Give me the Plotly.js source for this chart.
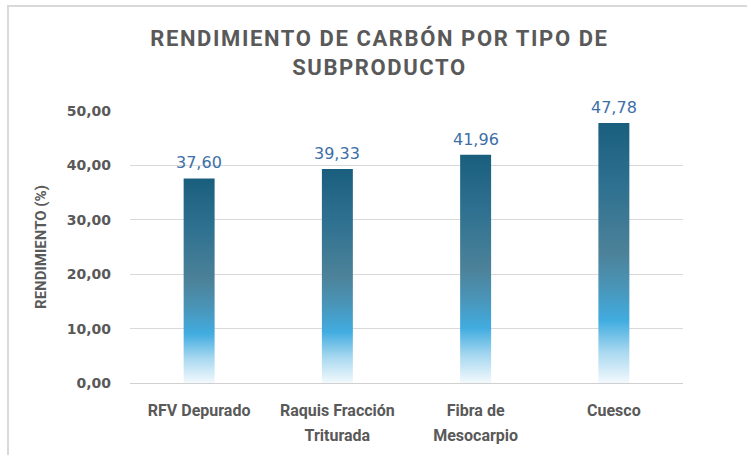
<!DOCTYPE html>
<html>
<head>
<meta charset="utf-8">
<script src="https://cdn.plot.ly/plotly-3.0.1.min.js"></script>
<style>
  html, body { margin: 0; padding: 0; background: #fff; }
  #wrap { position: relative; width: 747px; height: 455px; overflow: hidden; }
  #chart { width: 747px; height: 455px; }
  #frame { position: absolute; left: 7px; top: 5px; width: 745px; height: 460px;
           border-top: 2px solid #d9d9d9; border-left: 2px solid #d9d9d9;
           box-sizing: border-box; pointer-events: none; }
</style>
</head>
<body>
<div id="wrap">
  <div id="chart"></div>
  <div id="frame"></div>
</div>
<script>
const categories = ["RFV Depurado", "Raquis Fracción<br>Triturada", "Fibra de<br>Mesocarpio", "Cuesco"];
const yields = [37.60, 39.33, 41.96, 47.78];
const yTicks = [0, 10, 20, 30, 40, 50];

const fmt = function (v) { return v.toFixed(2).replace('.', ','); };

const trace = {
  type: 'bar',
  x: categories,
  y: yields,
  marker: { color: '#2f7fa6', line: { width: 0 } },
  hoverinfo: 'none'
};

const annotations = categories.map(function (c, i) {
  return {
    x: c, y: yields[i], xref: 'x', yref: 'y',
    text: fmt(yields[i]), showarrow: false,
    yanchor: 'bottom', yshift: 4,
    font: { family: 'DejaVu Sans, sans-serif', size: 16, color: '#3d6fa6' }
  };
});

const layout = {
  width: 747, height: 455,
  paper_bgcolor: '#ffffff', plot_bgcolor: '#ffffff',
  separators: ',.',
  margin: { l: 130, r: 64, t: 111, b: 72 },
  bargap: 0.776,
  showlegend: false,
  annotations: annotations,
  title: {
    text: 'RENDIMIENTO DE CARBÓN POR TIPO DE<br>SUBPRODUCTO',
    font: { family: 'Roboto, Liberation Sans, sans-serif', size: 22, color: '#595959', weight: 'bold' },
    x: 0.508, xanchor: 'center', y: 0.899, yanchor: 'middle'
  },
  xaxis: {
    type: 'category',
    showgrid: false, zeroline: false, showline: false, ticks: '',
    ticklabelstandoff: 16,
    tickfont: { family: 'Roboto, Liberation Sans, sans-serif', size: 16, color: '#595959', weight: 'bold' }
  },
  yaxis: {
    range: [0, 50],
    tickvals: yTicks,
    tickformat: '.2f',
    showgrid: true, gridcolor: '#d9d9d9', gridwidth: 1,
    zeroline: true, zerolinecolor: '#d0d0d0', zerolinewidth: 1,
    showline: false, ticks: '',
    ticklabelstandoff: 18,
    tickfont: { family: 'DejaVu Sans, sans-serif', size: 14, color: '#595959', weight: 'bold' },
    title: {
      text: 'RENDIMIENTO (%)',
      font: { family: 'Roboto, Liberation Sans, sans-serif', size: 15, color: '#595959', weight: 'bold' },
      standoff: 16
    }
  }
};

Plotly.newPlot('chart', [trace], layout, { displayModeBar: false, staticPlot: true }).then(function (gd) {
  const svgNS = 'http://www.w3.org/2000/svg';
  const svg = gd.querySelector('svg.main-svg');
  let defs = svg.querySelector('defs');
  if (!defs) { defs = document.createElementNS(svgNS, 'defs'); svg.insertBefore(defs, svg.firstChild); }
  const grad = document.createElementNS(svgNS, 'linearGradient');
  grad.setAttribute('id', 'barGrad');
  grad.setAttribute('x1', '0'); grad.setAttribute('y1', '0');
  grad.setAttribute('x2', '0'); grad.setAttribute('y2', '1');
  const stops = [
    [0, '#1a5e7e'], [0.25, '#2f7190'], [0.5, '#4c8299'], [0.62, '#4a93b5'],
    [0.76, '#41ace0'], [0.88, '#a8d8f0'], [1, '#f2f9fd']
  ];
  stops.forEach(function (s) {
    const st = document.createElementNS(svgNS, 'stop');
    st.setAttribute('offset', s[0]);
    st.setAttribute('stop-color', s[1]);
    grad.appendChild(st);
  });
  defs.appendChild(grad);
  gd.querySelectorAll('.barlayer .point path').forEach(function (p) {
    p.style.fill = 'url(#barGrad)';
  });
  // title letter spacing
  gd.querySelectorAll('.gtitle').forEach(function (t) {
    t.style.letterSpacing = '1.6px';
  });
  // wider line spacing for category labels (scale existing relative offsets)
  gd.querySelectorAll('.xtick text tspan.line').forEach(function (ts) {
    const dy = ts.getAttribute('dy');
    if (dy) {
      const v = parseFloat(dy);
      if (v > 0) ts.setAttribute('dy', (v * 1.55 / 1.3) + 'em');
    }
  });
});
</script>
</body>
</html>
